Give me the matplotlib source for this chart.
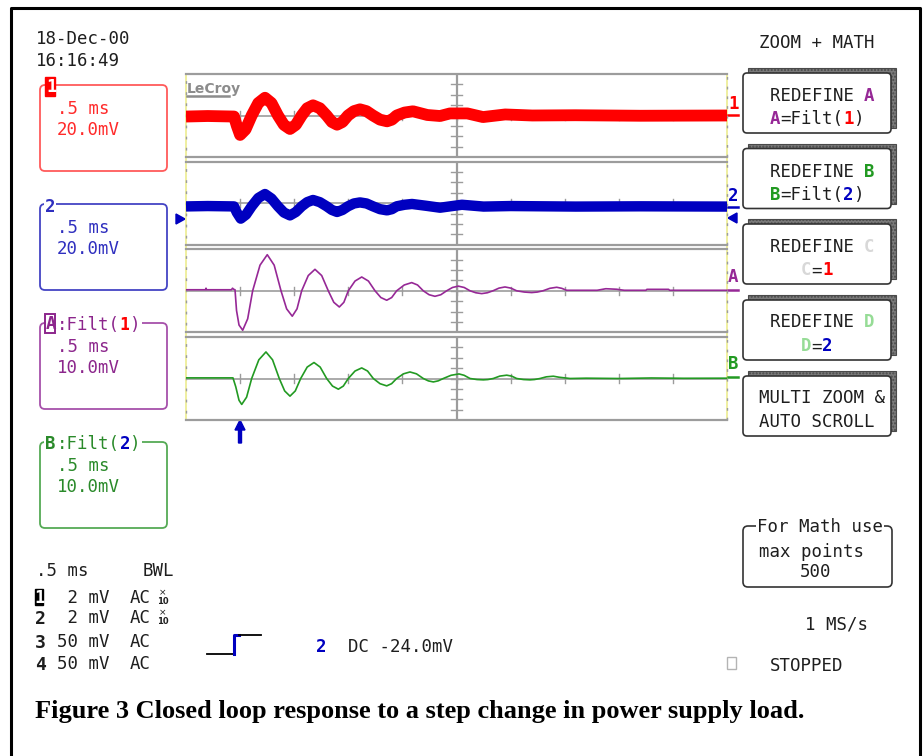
import matplotlib
matplotlib.use('Agg')
import matplotlib.pyplot as plt
from matplotlib.patches import FancyBboxPatch, Rectangle, Polygon

W, H = 924, 756
MONO = 'DejaVu Sans Mono'
SERIF = 'Liberation Serif'

# time in ms (0.5 ms/div, 10 div), values in mV
ch1_pts = [(0.00, -2), (0.20, -1), (0.444, -2), (0.47, -20), (0.50, -37.5), (0.55, -27),
           (0.607, 0), (0.668, 24), (0.730, 34.2), (0.79, 24), (0.85, 0), (0.905, -18),
           (0.961, -26), (1.015, -18), (1.069, 0), (1.12, 14), (1.174, 19.6), (1.237, 14),
           (1.30, 0), (1.348, -12.5), (1.396, -17.7), (1.446, -12.5), (1.497, 0), (1.552, 8.4),
           (1.608, 11.9), (1.668, 8.4), (1.728, 0), (1.793, -8), (1.858, -11.2), (1.903, -8),
           (1.947, 0), (2.02, 5.7), (2.098, 8.1), (2.23, 1), (2.348, -1), (2.44, 4), (2.60, 4),
           (2.745, -3), (2.95, 2), (3.20, 0), (3.60, 0.5), (4.20, -0.5), (5.00, 0)]

ch2_pts = [(0.00, -6.2), (0.20, -5.5), (0.444, -6.2), (0.47, -18), (0.506, -29.8), (0.555, -22),
           (0.607, -6), (0.668, 10), (0.730, 17.7), (0.79, 9), (0.85, -6), (0.905, -18),
           (0.961, -23.5), (1.015, -17), (1.069, -6), (1.12, 2), (1.174, 6.2), (1.237, 2),
           (1.30, -6), (1.348, -13), (1.396, -16.9), (1.446, -13), (1.497, -6), (1.552, -0.5),
           (1.608, 1.5), (1.668, -0.5), (1.728, -6), (1.793, -11.5), (1.858, -13.8), (1.903, -11.5),
           (1.947, -6), (2.02, -3), (2.089, -1.5), (2.22, -5), (2.348, -8.7), (2.55, -3),
           (2.75, -6.5), (3.00, -5.5), (3.60, -6.5), (4.20, -6), (5.00, -6.5)]

mathA_pts = [(0.00, 1.0), (0.18, 1.0), (0.185, 2.5), (0.19, 1.0), (0.42, 1.0), (0.43, 2.5),
             (0.44, 1.5), (0.453, 1.0), (0.467, -19), (0.490, -33), (0.524, -38), (0.57, -27),
             (0.616, 0), (0.684, 24.7), (0.751, 34.8), (0.815, 24.7), (0.878, 0), (0.930, -17.4),
             (0.982, -24.5), (1.026, -17.4), (1.069, 0), (1.130, 14.7), (1.192, 20.7), (1.254, 14.7),
             (1.315, 0), (1.366, -11.1), (1.417, -15.6), (1.459, -11.1), (1.500, 0), (1.562, 9.4),
             (1.624, 13.3), (1.686, 9.4), (1.747, 0), (1.801, -6.5), (1.855, -9.1), (1.901, -6.5),
             (1.947, 0), (2.017, 5.6), (2.086, 7.9), (2.140, 5.6), (2.193, 0), (2.247, -3.8),
             (2.301, -5.3), (2.355, -3.8), (2.409, 0), (2.463, 3.2), (2.517, 4.5), (2.571, 3.2),
             (2.625, 0), (2.679, -1.9), (2.733, -2.7), (2.785, -1.9), (2.837, 0), (2.893, 2.6),
             (2.948, 3.7), (3.002, 2.6), (3.056, 0), (3.126, -1.2), (3.195, -1.7), (3.247, -1.2),
             (3.299, 0), (3.363, 2.4), (3.426, 3.4), (3.472, 2.4), (3.518, 0.5), (3.80, 0.5),
             (3.88, 2.0), (3.98, 1.5), (4.05, 0.5), (4.25, 0.5), (4.26, 1.4), (4.46, 1.4),
             (4.47, 0.5), (5.00, 0.5)]

mathB_pts = [(0.00, 0.6), (0.434, 0.6), (0.46, -8), (0.49, -21), (0.515, -25), (0.56, -18),
             (0.607, 0), (0.673, 18), (0.739, 25.6), (0.80, 18), (0.862, 0), (0.912, -12),
             (0.961, -17.0), (1.01, -12), (1.060, 0), (1.12, 11), (1.183, 15.4), (1.24, 11),
             (1.300, 0), (1.354, -7.3), (1.408, -10.3), (1.454, -7.3), (1.500, 0), (1.562, 7.2),
             (1.624, 10.2), (1.678, 7.2), (1.731, 0), (1.793, -5), (1.855, -7.1), (1.90, -5),
             (1.947, 0), (2.01, 4.5), (2.070, 6.3), (2.13, 4.5), (2.193, 0), (2.24, -2.3),
             (2.286, -3.3), (2.33, -2.3), (2.378, 0), (2.45, 3.1), (2.523, 4.4), (2.57, 3.1),
             (2.625, 0), (2.69, -1), (2.748, -1.3), (2.79, -1), (2.840, 0), (2.90, 2.3),
             (2.964, 3.2), (3.01, 2.3), (3.056, 0), (3.12, -1), (3.179, -1.3), (3.22, -1),
             (3.272, 0), (3.33, 1.6), (3.395, 2.2), (3.45, 1.2), (3.55, 0), (3.70, 0.3),
             (4.00, 0), (4.30, 0.5), (4.60, 0.2), (5.00, 0.3)]

mv_per_div = [20, 20, 10, 10]
chan_rows = [('1', ' 2 mV', 'AC', True), ('2', ' 2 mV', 'AC', True),
             ('3', '50 mV', 'AC', False), ('4', '50 mV', 'AC', False)]

RED = '#ff0000'
BLUE = '#0000c0'
PURPLE = '#962896'
GREEN = '#229a22'
INK = '#1e1e1e'
GRID = '#9c9c9c'

fig = plt.figure(figsize=(W / 100, H / 100), dpi=100)
bg = fig.add_axes([0, 0, 1, 1])
bg.set_xlim(0, W)
bg.set_ylim(H, 0)
bg.axis('off')

SIZE = 12.5
CW = 0.602 * SIZE / 72 * 100


def txt(x, y, s, color=INK, size=SIZE, weight='normal', family=MONO, box=False, z=5):
    # y is the centre of the capitals
    em = size / 72 * 100
    kw = {}
    if box:
        kw['bbox'] = dict(fc='white', ec='none', pad=0.6)
    bg.text(x, y + 0.36 * em, s, color=color, fontsize=size, fontweight=weight,
            fontfamily=family, ha='left', va='baseline', zorder=z, **kw)


def parts(x, y, items, box=False):
    col = 0
    for s, c, w in items:
        txt(x + col * CW, y, s, color=c, weight=w, box=box)
        col += len(s)


# outer frame
bg.plot([11, 11, 920, 920], [770, 8, 8, 770], color='black', lw=2.2, clip_on=False)

# header
txt(36, 38, '18-Dec-00')
txt(36, 60, '16:16:49')
txt(759, 42, 'ZOOM + MATH')

# trace panels
PX0, PX1, PH = 186, 727, 83
tops = [74, 161.7, 249.3, 337]
traces = [(ch1_pts, RED, 8.5), (ch2_pts, BLUE, 7.5), (mathA_pts, PURPLE, 1.2), (mathB_pts, GREEN, 1.2)]

bg.plot([PX0, PX0], [tops[0], tops[-1] + PH], color='#eeee99', lw=1.3)
bg.plot([PX1, PX1], [tops[0], tops[-1] + PH], color='#eeee99', lw=1.3)

for top, (pts, color, lw), s in zip(tops, traces, mv_per_div):
    ax = fig.add_axes([PX0 / W, 1 - (top + PH) / H, (PX1 - PX0) / W, PH / H])
    ax.set_facecolor('none')
    ax.set_xlim(0, 5)
    ax.set_ylim(-4 * s, 4 * s)
    ax.axis('off')
    for yy in (-4 * s, 4 * s):
        ax.plot([0, 5], [yy, yy], color=GRID, lw=1.6, clip_on=False)
    ax.axhline(0, color=GRID, lw=1.2)
    ax.axvline(2.5, color=GRID, lw=1.6)
    for k in range(1, 10):
        ax.plot([0.5 * k] * 2, [-0.4 * s, 0.4 * s], color=GRID, lw=1.0)
    for k in range(-3, 4):
        ax.plot([2.45, 2.55], [k * s] * 2, color=GRID, lw=1.0)
    ax.plot([5, 5], [-4 * s, 4 * s], color=GRID, lw=1.0, ls=(0, (2, 5)), clip_on=False)
    ax.plot([0, 0], [-4 * s, 4 * s], color=GRID, lw=1.0, ls=(3, (2, 6)), clip_on=False)
    t = [p[0] for p in pts]
    v = [p[1] for p in pts]
    ax.plot(t, v, color=color, lw=lw, solid_joinstyle='round', solid_capstyle='butt', zorder=5)

# LeCroy logo
bg.text(187, 93, 'LeCroy', fontsize=10, fontweight='bold', color='#8c8c8c',
        fontfamily='DejaVu Sans', ha='left', va='baseline')
bg.plot([187, 229], [96, 96], color='#8c8c8c', lw=1.8)

# right side trace labels
for y, lab, c in [(103, '1', RED), (195, '2', BLUE), (276, 'A', PURPLE), (363, 'B', GREEN)]:
    txt(728, y, lab, color=c, weight='bold')
for y, c in [(115, RED), (207, BLUE), (290, PURPLE), (377, GREEN)]:
    bg.plot([728, 738], [y, y], color=c, lw=1.8)
bg.add_patch(Polygon([(737, 213), (737, 223), (728, 218)], closed=True, color=BLUE))
bg.add_patch(Polygon([(176, 214), (176, 224), (185, 219)], closed=True, color=BLUE))

# trigger arrow
bg.add_patch(Polygon([(238.5, 443), (241.5, 443), (241.5, 430), (245, 430), (240, 420),
                      (235, 430), (238.5, 430)], closed=True, color=BLUE))

# channel boxes on the left
boxes = [(85, '#ff5a5a', '#ff2a2a', '20.0mV'), (204, '#4444c4', '#2f2fbf', '20.0mV'),
         (323, '#a650aa', '#8c268c', '10.0mV'), (442, '#55aa55', '#2a8a2a', '10.0mV')]
for y0, ec, tc, volts in boxes:
    bg.add_patch(FancyBboxPatch((40, y0), 127, 86, boxstyle='round,pad=0,rounding_size=5',
                                fc='none', ec=ec, lw=1.3))
    txt(57, y0 + 22.5, '.5 ms', color=tc)
    txt(57, y0 + 43.5, volts, color=tc)

bg.add_patch(Rectangle((45, 77), 10, 19, color=RED, zorder=6))
txt(46.5, 86, '1', color='white', weight='bold', z=7)
txt(45, 206, '2', color='#2f2fbf', weight='bold', box=True)
bg.add_patch(Rectangle((45, 314), 10, 19, fc='white', ec='#8c268c', lw=1.4, zorder=6))
txt(45.5, 323, 'A', color='#8c268c', weight='bold', z=7)
parts(57, 324, [(':Filt(', '#8c268c', 'normal'), ('1', RED, 'bold'), (')', '#8c268c', 'normal')], box=True)
txt(45, 443, 'B', color='#2a8a2a', weight='bold', box=True)
parts(57, 443, [(':Filt(', '#2a8a2a', 'normal'), ('2', BLUE, 'bold'), (')', '#2a8a2a', 'normal')], box=True)

# menu buttons on the right
btn_tops = [73, 148.5, 224, 300, 376]
for y0 in btn_tops:
    bg.add_patch(Rectangle((748, y0 - 5), 148, 60, fc='#7a7a7a', ec='#4a4a4a', lw=0.8,
                           hatch='.....', zorder=2))
    bg.add_patch(FancyBboxPatch((743, y0), 148, 60, boxstyle='round,pad=0,rounding_size=4',
                                fc='white', ec='#333333', lw=1.2, zorder=3))

parts(770, 94.5, [('REDEFINE ', INK, 'normal'), ('A', PURPLE, 'bold')])
parts(770, 117.5, [('A', PURPLE, 'bold'), ('=Filt(', INK, 'normal'), ('1', RED, 'bold'), (')', INK, 'normal')])
parts(770, 170.5, [('REDEFINE ', INK, 'normal'), ('B', GREEN, 'bold')])
parts(770, 194, [('B', GREEN, 'bold'), ('=Filt(', INK, 'normal'), ('2', BLUE, 'bold'), (')', INK, 'normal')])
parts(770, 246, [('REDEFINE ', INK, 'normal'), ('C', '#d8d8d8', 'bold')])
parts(801, 269, [('C', '#d8d8d8', 'bold'), ('=', INK, 'normal'), ('1', RED, 'bold')])
parts(770, 321, [('REDEFINE ', INK, 'normal'), ('D', '#96dc96', 'bold')])
parts(801, 345, [('D', '#96dc96', 'bold'), ('=', INK, 'normal'), ('2', BLUE, 'bold')])
txt(759, 397, 'MULTI ZOOM &')
txt(759, 420.5, 'AUTO SCROLL')

# timebase and channel summary
txt(36, 570, '.5 ms')
txt(143, 570, 'BWL')
row_y = [597, 617, 641, 663]
for y, (num, volts, coup, probe) in zip(row_y, chan_rows):
    if num == '1':
        bg.add_patch(Rectangle((34.5, 589), 8.5, 16, color='black', zorder=6))
        txt(34.5, y, num, color='white', weight='bold', z=7)
    else:
        txt(35, y, num, weight='bold', size=13)
    txt(36 + 2 * CW, y, volts)
    txt(36 + 9 * CW, y, coup)
    if probe:
        bg.text(163, y - 4, '×', fontsize=6.5, color=INK, fontfamily='DejaVu Sans',
                ha='center', va='center')
        bg.text(163, y + 4.5, '10', fontsize=6, color=INK, fontweight='bold',
                fontfamily='DejaVu Sans', ha='center', va='center')

# trigger symbol
bg.plot([207, 233.5], [654, 654], color='black', lw=1.3)
bg.plot([233.5, 233.5, 239], [654, 635, 635], color=BLUE, lw=2.2)
bg.plot([239, 261], [635, 635], color='black', lw=1.3)
txt(316, 646, '2', color=BLUE, weight='bold')
txt(348, 646, 'DC -24.0mV')

# math info box
bg.add_patch(FancyBboxPatch((743, 526), 149, 61, boxstyle='round,pad=0,rounding_size=5',
                            fc='none', ec='#333333', lw=1.2))
txt(757, 526, 'For Math use', box=True)
txt(759, 551, 'max points')
txt(800, 571, '500')
txt(805, 623, '1 MS/s')
bg.add_patch(Rectangle((727, 657), 9, 12, fc='none', ec='#b4b4b4', lw=1.0))
txt(770, 665, 'STOPPED')

# caption
bg.text(35, 718, 'Figure 3 Closed loop response to a step change in power supply load.',
        fontsize=19, fontweight='bold', fontfamily=SERIF, color='black',
        ha='left', va='baseline')

fig.savefig('out.png', dpi=100)
